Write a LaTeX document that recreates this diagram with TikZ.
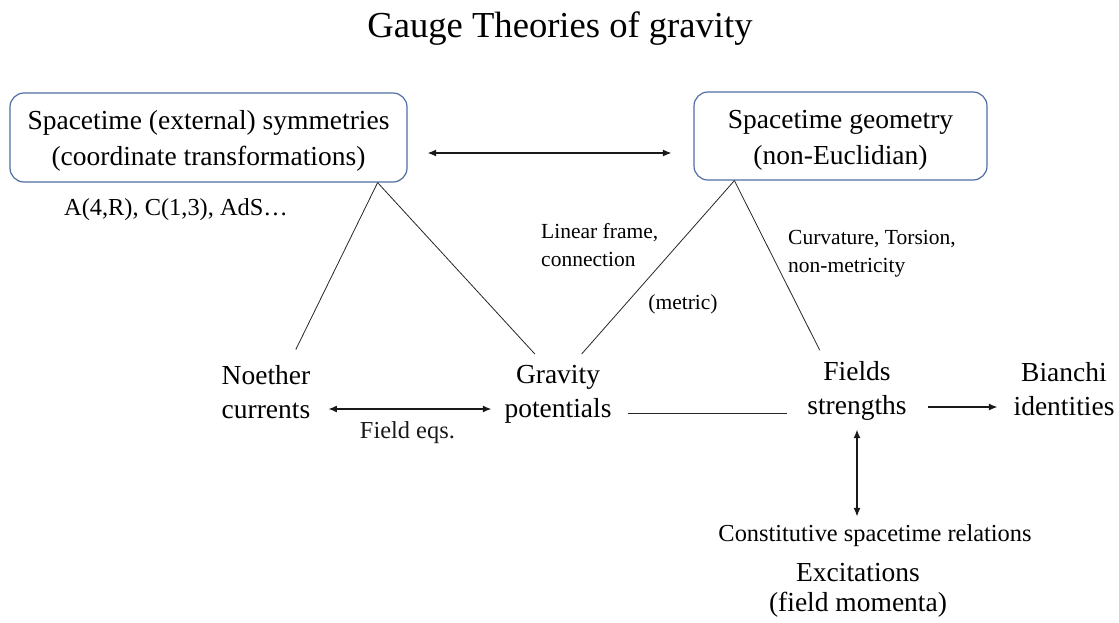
\documentclass[tikz,border=0pt]{standalone}
\usepackage{fontspec}
\setmainfont{Liberation Serif}
\usetikzlibrary{arrows.meta}
\definecolor{boxblue}{RGB}{79,109,164}
\newcommand{\fsz}[2]{\fontsize{#1}{#2}\selectfont}
\newcommand{\topgap}[1]{\rule{0pt}{#1pt}}
\begin{document}
\begin{tikzpicture}[x=1pt, y=-1pt,
  >={Latex[length=8.5pt,width=7pt]},
  frame/.style={draw=boxblue, line width=1.2pt, rounded corners=14pt, align=center, font=\fsz{27.5}{36}},
  item/.style={align=center, inner sep=4pt, font=\fsz{27.5}{34}},
  note/.style={font=\fsz{24.4}{30}},
  tag/.style={align=left, inner sep=4pt, font=\fsz{21.5}{28}},
  link/.style={line width=0.8pt, black!85},
  flow/.style={line width=1.2pt, black!90}]
\useasboundingbox (0,0) rectangle (1119,622);
% title
\node[font=\fsz{36.6}{40}] (title) at (560,29) {Gauge Theories of gravity};
% boxes on top
\node[frame, minimum width=397pt, minimum height=89pt] (sym) at (208.5,137.5)
  {\topgap{25}Spacetime (external) symmetries\\(coordinate transformations)};
\node[frame, minimum width=293pt, minimum height=88pt] (geo) at (840.5,136)
  {\topgap{27}Spacetime geometry\\(non-Euclidian)};
\node[note] (groups) at (176,210) {A(4,R), C(1,3), AdS…};
\draw[flow, <->, shorten <=20pt, shorten >=22pt] ([yshift=-15.5]sym.east) -- ([yshift=-15.5]sym.east -| geo.west);
% middle row
\node[item] (noether) at (266,392) {Noether\\currents};
\node[item] (grav) at (558,394) {Gravity\\potentials};
\node[item] (fields) at (857,391) {Fields\\strengths};
\node[item] (bianchi) at (1064,389) {Bianchi\\identities};
% lines from the boxes
\coordinate (symfoot) at ([xshift=-30]sym.south east);
\coordinate (geofoot) at ([xshift=41]geo.south west);
\draw[link, shorten >=13pt] (symfoot) -- (noether.52);
\draw[link, shorten >=9pt] (symfoot) -- (grav.117);
\draw[link, shorten >=9pt] (geofoot) -- (grav.62);
\draw[link, shorten >=8pt] (geofoot) -- (fields.135);
\node[tag, anchor=west] (frame) at (537,245) {Linear frame,\\connection};
\node[tag] (metric) at (683,304) {(metric)};
\node[tag, anchor=west] (curv) at (784,254) {Curvature, Torsion,\\non-metricity};
% connectors in the row
\draw[flow, <->, shorten <=14pt, shorten >=9pt] ([yshift=-17]noether.east) -- ([yshift=-17]noether.east -| grav.west)
  node[midway, below=9pt, note] (eqs) {Field eqs.};
\draw[link, shorten <=12pt, shorten >=16pt] ([yshift=-19]grav.east) -- ([yshift=-19]grav.east -| fields.west);
\draw[flow, ->, shorten <=17pt, shorten >=12pt] ([yshift=-16]fields.east) -- ([yshift=-16]fields.east -| bianchi.west);
% lower part
\node[note] (const) at (875,536) {Constitutive spacetime relations};
\node[item, font=\fsz{27.5}{30}] (excit) at (858,590) {Excitations\\(field momenta)};
\draw[flow, <->, shorten <=5pt, shorten >=5pt] (fields.south) -- (fields.south |- const.north);
\end{tikzpicture}
\end{document}
